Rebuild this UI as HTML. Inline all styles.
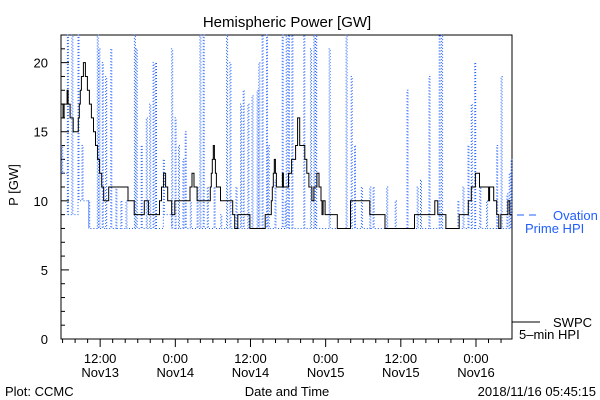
<!DOCTYPE html>
<html><head><meta charset="utf-8"><style>
html,body{margin:0;padding:0;background:#fff;}
svg{display:block;font-family:"Liberation Sans",sans-serif;}
</style></head><body>
<svg id="chart" width="600" height="400" viewBox="0 0 600 400" xmlns="http://www.w3.org/2000/svg">
<rect x="0" y="0" width="600" height="400" fill="#fff"/>
<text x="287" y="27" font-size="15" text-anchor="middle">Hemispheric Power [GW]</text>
<text transform="translate(18,185) rotate(-90)" font-size="13" text-anchor="middle">P [GW]</text>
<text x="287" y="396" font-size="13" text-anchor="middle">Date and Time</text>
<text x="5" y="396" font-size="13">Plot: CCMC</text>
<text x="596" y="396" font-size="13" text-anchor="end">2018/11/16 05:45:15</text>
<g id="gridg"></g>
<g id="blueg"></g>
<g id="blackg"></g>
<g>
<line x1="517" y1="215" x2="540" y2="215" stroke="#1f5fff" stroke-width="1" stroke-dasharray="7,5"/>
<text x="553" y="220" font-size="13" fill="#1f5fff">Ovation</text>
<text x="525" y="233" font-size="13" fill="#1f5fff">Prime HPI</text>
</g>
<g>
<line x1="512" y1="322" x2="540" y2="322" stroke="#000" stroke-width="1"/>
<text x="553" y="327" font-size="13">SWPC</text>
<text x="519" y="339" font-size="13">5–min HPI</text>
</g>
</svg>
<script>
// time in hours since 2018-11-13 00:00
const xDomain = [5.75, 77.75];
const yDomain = [0, 22];
const yTickLabels = ["0","5","10","15","20"];
const yTickValues = [0,5,10,15,20];
const xTickValues = [12,24,36,48,60,72];
const xTickTop = ["12:00","0:00","12:00","0:00","12:00","0:00"];
const xTickBottom = ["Nov13","Nov14","Nov14","Nov15","Nov15","Nov16"];

const swpcT = [5.75,6.07,6.24,6.72,6.89,7.21,7.70,8.51,8.67,8.83,9.0,9.32,9.64,9.97,10.29,10.61,10.94,11.26,11.59,11.91,12.24,12.56,13.37,16.45,17.43,19.05,19.70,21.48,21.80,22.13,22.45,22.78,23.43,23.91,26.34,26.67,26.99,27.48,29.59,29.75,29.91,30.07,30.24,30.40,30.56,31.21,33.16,33.48,33.97,35.91,38.35,39.32,39.48,39.64,39.81,39.97,40.13,41.10,41.26,42.07,42.56,43.21,43.53,43.86,44.67,44.99,45.32,45.80,46.13,46.61,46.94,47.26,47.42,47.59,47.91,49.86,51.97,55.05,57.48,62.18,65.42,65.91,67.20,69.32,70.78,71.26,71.91,72.56,74.02,74.18,74.83,75.31,75.64,75.96,77.10,77.40];
const swpcV = [17,16,17,18,17,16,15,16,17,18,19,20,19,18,17,16,15,14,13,12,11,10,11,10,9,10,9,10,11,12,11,10,9,10,11,12,11,10,11,12,13,14,13,12,11,10,9,8,9,8,9,10,11,12,13,12,11,12,11,12,13,14,16,14,13,12,11,10,11,12,11,10,9,10,9,8,10,9,8,9,10,9,8,9,10,11,12,11,10,11,10,9,8,9,10,9];

const ovT = [5.86,6.77,7.49,8.46,9.11,10.18,11.54,11.80,12.35,12.89,13.70,14.51,15.32,16.13,17.47,17.75,18.56,19.37,19.91,20.46,20.83,22.08,23.43,23.96,24.51,25.21,25.58,26.39,27.48,27.92,28.45,29.10,30.19,31.26,32.18,32.72,33.69,34.40,34.83,35.59,36.24,37.05,37.32,37.86,38.56,38.83,39.92,41.06,41.54,41.70,42.07,42.61,44.51,45.59,46.13,46.41,48.56,51.27,52.08,52.61,53.70,55.05,55.58,57.75,59.10,60.99,62.62,63.15,64.50,66.12,66.51,69.11,69.92,70.73,71.26,71.80,72.61,73.70,75.31,76.01,76.94,77.30,77.60];
const ovPeak = [14,22,22,22,14,10,22,21,20,19,21,11,10,10,22,21,14,16,17,20,20,13,21,16,14,13,15,10,11,22,22,11,11,9,22,20,11,17,18,17,17.6,18,20,22,22,14,11.5,22,10,22,22,22,22,21,22,22,21,22,19,14,11,11,11,11,10,18,11,11.5,19,22,22,10,11,14,17,20,11,10,14,19,10.5,12,13];
const ovLow = [12,9,9,10,10,8,8,8,8,8,8,8,8,8,8,8,8,8,8,8,8,9,8,8,8,8,8,8,8,8,8,8,8,8,8,8,8,8,8,8,8,8,8,8,8,8,8,8,8,8,8,8,8,8,8,8,8,8,8,8,8,8,8,8,8,8,8,8,8,8,8,8,8,8,8,8,8,8,8,8,8,8,9];

const L=61,R=512,T=35,B=339;
const xs = t => L + (t - xDomain[0]) / (xDomain[1]-xDomain[0]) * (R-L);
const ys = v => B - (v - yDomain[0]) / (yDomain[1]-yDomain[0]) * (B-T);
const NS="http://www.w3.org/2000/svg";
function mk(tag, attrs, parent){const e=document.createElementNS(NS,tag);for(const k in attrs)e.setAttribute(k,attrs[k]);parent.appendChild(e);return e;}

const ax=document.getElementById('gridg');
const frame=mk('rect',{x:L,y:T,width:R-L,height:B-T,fill:'none',stroke:'#000','stroke-width':1},ax);


for(let v=yDomain[0]; v<=21; v++){
  const major = yTickValues.indexOf(v)>=0;
  const tk=mk('line',{x1:L,x2:L+(major?8:4),y1:ys(v),y2:ys(v),stroke:'#000'},ax);
  
  
}
yTickValues.forEach((v,i)=>{
  const t=mk('text',{x:48,y:ys(v)+5,'font-size':13,'text-anchor':'end'},ax);
  t.textContent=yTickLabels[i];
  
  
});
for(let h=6; h<=77; h+=2){
  const major = xTickValues.indexOf(h)>=0;
  const tk=mk('line',{x1:xs(h),x2:xs(h),y1:B,y2:B+(major?8:4),stroke:'#000'},ax);
  
  
}
xTickValues.forEach((h,i)=>{
  const t1=mk('text',{x:xs(h),y:363,'font-size':13,'text-anchor':'middle'},ax);
  t1.textContent=xTickTop[i];
  
  
  const t2=mk('text',{x:xs(h),y:377,'font-size':13,'text-anchor':'middle'},ax);
  t2.textContent=xTickBottom[i];
  
  
});

let d='';
for(let i=0;i<ovT.length;i++){
  const x=xs(ovT[i]);
  const xe = i<ovT.length-1 ? xs(ovT[i+1]) : R;
  const xm = Math.min(x+1, xe);
  d += (i===0?'M':'L')+x.toFixed(1)+','+ys(ovLow[i]).toFixed(1)+' L'+x.toFixed(1)+','+ys(ovPeak[i]).toFixed(1)+' L'+xm.toFixed(1)+','+ys(ovPeak[i]).toFixed(1)+' L'+xm.toFixed(1)+','+ys(ovLow[i]).toFixed(1)+' L'+xe.toFixed(1)+','+ys(ovLow[i]).toFixed(1)+' ';
}
const bp=mk('path',{d:d,fill:'none',stroke:'#1f5fff','stroke-width':1,'stroke-dasharray':'1,2'},document.getElementById('blueg'));



let d2='';
for(let i=0;i<swpcT.length;i++){
  const x=xs(swpcT[i]), y=ys(swpcV[i]);
  d2 += (i===0?'M'+x.toFixed(1)+','+y.toFixed(1):' L'+x.toFixed(1)+','+ys(swpcV[i-1]).toFixed(1)+' L'+x.toFixed(1)+','+y.toFixed(1));
}
d2 += ' L'+R+','+ys(swpcV[swpcV.length-1]).toFixed(1);
const kp=mk('path',{d:d2,fill:'none',stroke:'#000','stroke-width':1},document.getElementById('blackg'));


</script>
</body></html>
